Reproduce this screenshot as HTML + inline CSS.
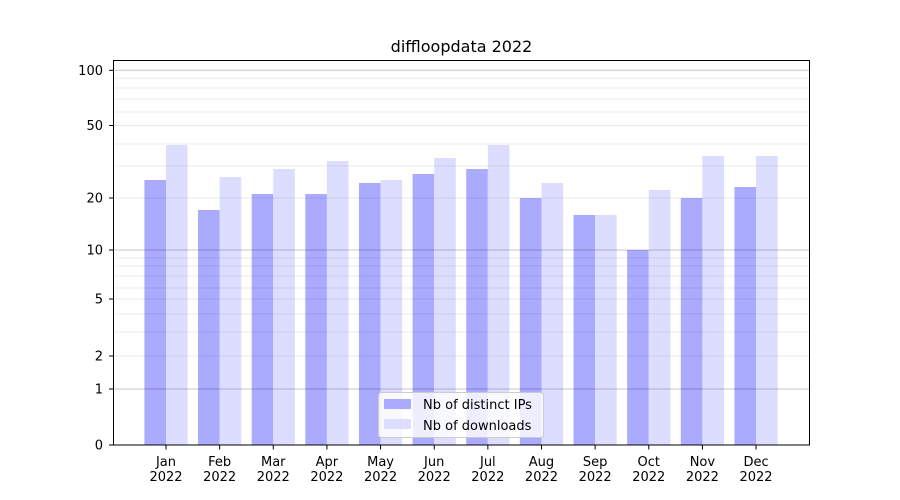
<!DOCTYPE html>
<html><head><meta charset="utf-8"><style>
html,body{margin:0;padding:0;background:#fff;}
svg{display:block;font-family:"DejaVu Sans","Liberation Sans",sans-serif;}
</style></head><body>
<svg width="900" height="500" viewBox="0 0 900 500" xmlns="http://www.w3.org/2000/svg">
<rect width="900" height="500" fill="#fff"/>
<text x="461.5" y="52" font-size="16" text-anchor="middle" fill="#000">diffloopdata 2022</text>
<g id="bars"></g>
<g id="grid"></g>
<rect x="113.5" y="60.5" width="696" height="384.5" fill="none" stroke="#000" stroke-width="1"/>
<g id="ticks" font-size="13" fill="#000"></g>
<g>
<rect x="378.5" y="392.5" width="165" height="45" rx="3" fill="#fff" fill-opacity="0.8" stroke="#ccc"/>
<rect x="384" y="399" width="27" height="10" fill="#aaaaff"/>
<rect x="384" y="419" width="27" height="10" fill="#ddddff"/>
<text x="423" y="409" font-size="13">Nb of distinct IPs</text>
<text x="423" y="430" font-size="13">Nb of downloads</text>
</g>
</svg>
<script>
const ns="http://www.w3.org/2000/svg";
function el(p,t,a,txt){const e=document.createElementNS(ns,t);for(const k in a)e.setAttribute(k,a[k]);if(txt!==undefined)e.textContent=txt;document.getElementById(p).appendChild(e);return e;}
const dark=[180,210,194,194,183,174,169,198,215,250,198,187];
const light=[145,177,169,161,180,158,145,183,215,190,156,156];
const m=["Jan","Feb","Mar","Apr","May","Jun","Jul","Aug","Sep","Oct","Nov","Dec"];
for(let i=0;i<12;i++){
 const c=166+i*53.64;
 el("bars","rect",{x:c-21.6,y:dark[i],width:21.6,height:445-dark[i],fill:"#aaaaff"});
 el("bars","rect",{x:c,y:light[i],width:21.6,height:445-light[i],fill:"#ddddff"});
 el("ticks","line",{x1:c,x2:c,y1:445,y2:449.5,stroke:"#000"});
 el("ticks","text",{x:c,y:466,"text-anchor":"middle"},m[i]);
 el("ticks","text",{x:c,y:481,"text-anchor":"middle"},"2022");
}
const minor=[258,266,276,288,299,314,332,356,78.3,88,99,112,125.5,144,166,198];
minor.forEach(y=>el("grid","line",{x1:113.5,x2:809.5,y1:y,y2:y,stroke:"#000","stroke-opacity":"0.08"}));
[389,250,70.3].forEach(y=>el("grid","line",{x1:113.5,x2:809.5,y1:y,y2:y,stroke:"#000","stroke-opacity":"0.22"}));
const yt=[[0,445],[1,389],[2,356],[5,299],[10,250],[20,198],[50,125.5],[100,70.3]];
yt.forEach(([v,y])=>{el("ticks","line",{x1:109,x2:113.5,y1:y,y2:y,stroke:"#000"});el("ticks","text",{x:103,y:y+4.5,"text-anchor":"end"},String(v));});
</script>
</body></html>
